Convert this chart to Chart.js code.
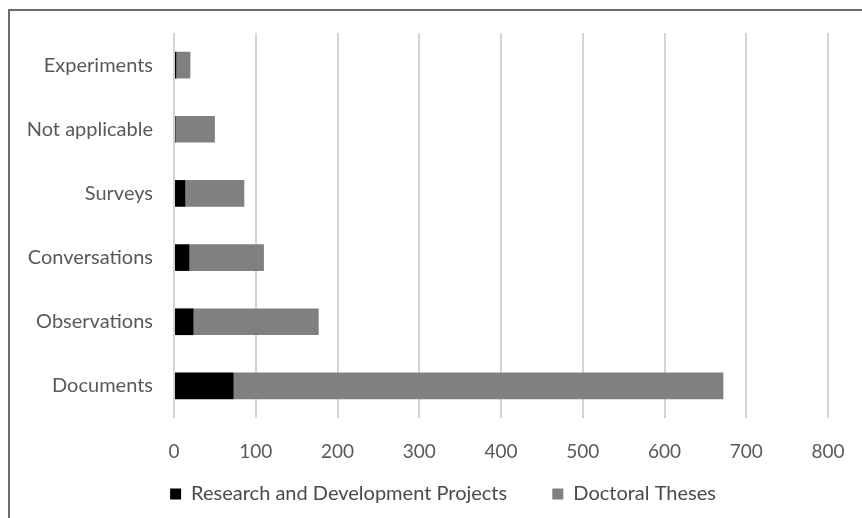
<!DOCTYPE html>
<html>
<head>
<meta charset="utf-8">
<script src="https://cdn.jsdelivr.net/npm/chart.js@4"></script>
<style>
  html, body { margin: 0; padding: 0; background: #fff; }
  #wrap { position: relative; width: 862px; height: 518px; overflow: hidden; }
  #frame { position: absolute; left: 8px; top: 9px; width: 900px; height: 600px;
           border-left: 2px solid #6b6b6b; border-top: 2px solid #6b6b6b; }
  #grafico { position: absolute; left: 0; top: 0; }
</style>
</head>
<body>
<div id="wrap">
  <div id="frame"></div>
  <canvas id="grafico" width="862" height="518"></canvas>
</div>
<script>
const categorias = ["Experiments", "Not applicable", "Surveys", "Conversations", "Observations", "Documents"];
const projetos = [3, 2, 14, 19, 24, 73];
const teses = [17, 48, 72, 91, 153, 599];
const ticksX = [0, 100, 200, 300, 400, 500, 600, 700, 800];

const fonte = "Lato, 'Open Sans', sans-serif";

const grafico = new Chart(document.getElementById("grafico"), {
  type: "bar",
  data: {
    labels: categorias,
    datasets: [
      {
        label: "Research and Development Projects",
        data: projetos,
        backgroundColor: "#000000",
        barPercentage: 0.8,
        categoryPercentage: 0.52,
      },
      {
        label: "Doctoral Theses",
        data: teses,
        backgroundColor: "#808080",
        barPercentage: 0.8,
        categoryPercentage: 0.52,
      },
    ],
  },
  options: {
    indexAxis: "y",
    responsive: false,
    animation: false,
    layout: { padding: { left: 24, right: 0, top: 32, bottom: 4 } },
    scales: {
      x: {
        stacked: true,
        min: 0,
        max: 800,
        afterBuildTicks: (axis) => {
          axis.ticks = ticksX.map((v) => ({ value: v }));
        },
        afterFit: (axis) => {
          axis.height = 56;
          // espaço à direita para o gráfico terminar em 800 no mesmo lugar
          axis.paddingRight = 34;
        },
        grid: { color: "#d4d4d4", lineWidth: 2, drawTicks: false },
        border: { display: false },
        ticks: { color: "#595959", font: { family: fonte, size: 19 }, padding: 22 },
      },
      y: {
        stacked: true,
        afterFit: (axis) => {
          axis.width = 150;
        },
        grid: { display: false, drawTicks: false },
        border: { display: false },
        ticks: { color: "#595959", font: { family: fonte, size: 20 }, padding: 21 },
      },
    },
    plugins: {
      tooltip: { enabled: false },
      legend: {
        position: "bottom",
        labels: {
          color: "#4a4a4a",
          font: { family: fonte, size: 20 },
          boxWidth: 11,
          boxHeight: 11,
          padding: 10,
          generateLabels: (chart) => {
            const itens = Chart.defaults.plugins.legend.labels.generateLabels(chart);
            itens[0].text = itens[0].text + "\u2003\u2003 ";
            return itens;
          },
        },
      },
    },
  },
});
</script>
</body>
</html>
